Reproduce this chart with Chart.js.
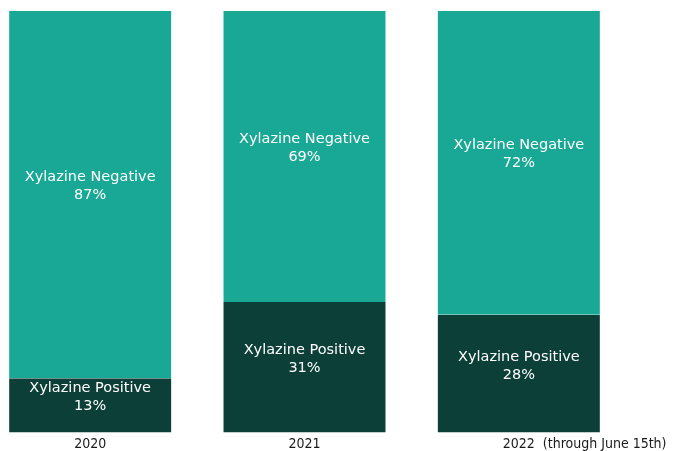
<!DOCTYPE html>
<html>
<head>
<meta charset="utf-8">
<script src="https://cdn.jsdelivr.net/npm/chart.js@4"></script>
<style>
  html, body { margin: 0; padding: 0; background: #fff; overflow: hidden; }
  #wrap { position: absolute; left: -17px; top: 0; width: 690px; height: 456px; }
</style>
</head>
<body>
<div id="wrap"><canvas id="xylChart"></canvas></div>
<script>
const years = ['2020', '2021', '2022'];
const positive = [13, 31, 28];
const negative = [87, 69, 72];
const yearNote = ['', '', '(through June 15th)'];

// white two-line labels in the middle of each segment + note after the last year
const segLabels = {
  id: 'segLabels',
  afterDatasetsDraw(chart) {
    const ctx = chart.ctx;
    ctx.save();
    ctx.fillStyle = '#ffffff';
    ctx.textAlign = 'center';
    ctx.textBaseline = 'middle';
    ctx.font = '14.5px "DejaVu Sans"';
    chart.data.datasets.forEach((ds, di) => {
      chart.getDatasetMeta(di).data.forEach((bar, i) => {
        const mid = (bar.y + bar.base) / 2;
        ctx.fillText(ds.label, bar.x, mid - 17);
        ctx.fillText(ds.data[i] + '%', bar.x, mid + 1);
      });
    });
    const xs = chart.scales.x;
    ctx.fillStyle = '#1a1a1a';
    ctx.textAlign = 'left';
    ctx.font = '14px "DejaVu Sans Condensed"';
    yearNote.forEach((n, i) => {
      if (!n) return;
      ctx.fillText(n, xs.getPixelForValue(i) + 24, chart.chartArea.bottom + 11);
    });
    ctx.restore();
  }
};

new Chart(document.getElementById('xylChart').getContext('2d'), {
  type: 'bar',
  data: {
    labels: years,
    datasets: [
      {
        label: 'Xylazine Positive',
        data: positive,
        backgroundColor: '#0b3f38',
        borderColor: 'rgba(255,255,255,0.35)',
        borderWidth: 1,
        borderSkipped: 'end'
      },
      {
        label: 'Xylazine Negative',
        data: negative,
        backgroundColor: '#18a895',
        borderColor: 'rgba(255,255,255,0.35)',
        borderWidth: 1,
        borderSkipped: 'start'
      }
    ]
  },
  options: {
    responsive: true,
    maintainAspectRatio: false,
    animation: false,
    layout: { padding: { top: 10, right: 47, bottom: 0, left: 0 } },
    datasets: { bar: { categoryPercentage: 1, barPercentage: 0.765 } },
    scales: {
      x: {
        stacked: true,
        grid: { display: false, drawTicks: false },
        border: { display: false },
        ticks: { color: '#1a1a1a', font: { family: 'DejaVu Sans Condensed', size: 14 }, padding: 3 }
      },
      y: {
        stacked: true,
        min: 0,
        max: 100,
        display: false
      }
    },
    plugins: {
      legend: { display: false },
      tooltip: { enabled: false }
    }
  },
  plugins: [segLabels]
});
</script>
</body>
</html>
